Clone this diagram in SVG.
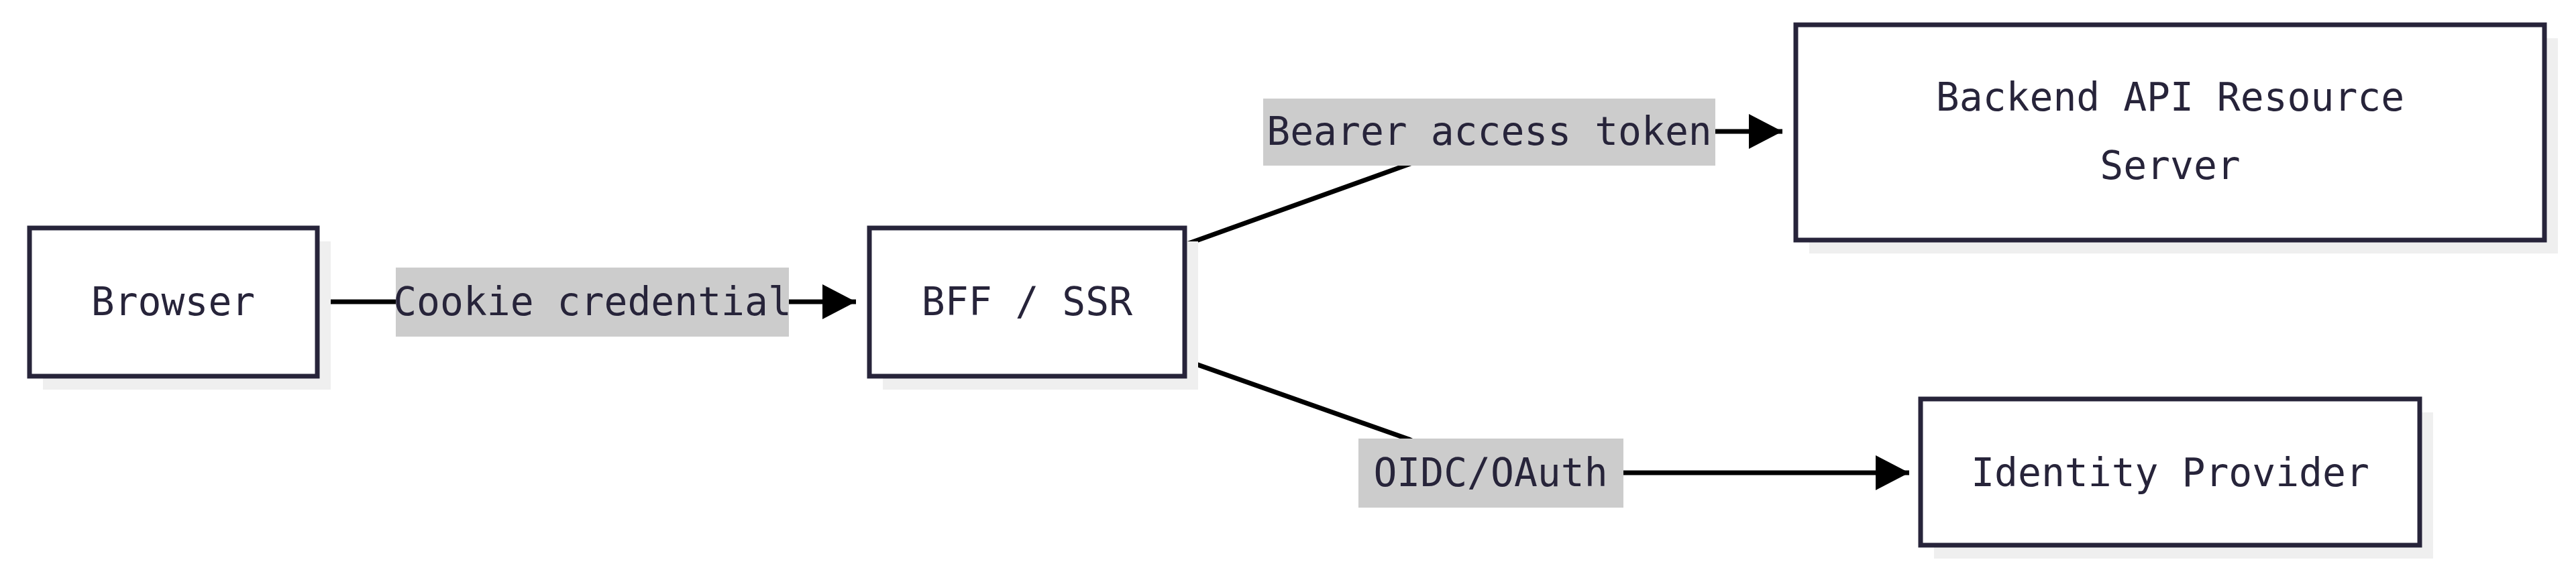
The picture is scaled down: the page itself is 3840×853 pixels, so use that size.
<svg xmlns="http://www.w3.org/2000/svg" width="3840" height="853" viewBox="0 0 3840 853">
<style>
.shadow{fill:#efefef}
.node{fill:#fff;stroke:#27243a;stroke-width:7}
.t{font-family:"DejaVu Sans Mono","Liberation Mono",monospace;font-size:58px;fill:#27243a;text-anchor:middle;dominant-baseline:central}
.lbg{fill:#cccccc}
.edge{fill:none;stroke:#000;stroke-width:7}
</style>
<defs>
<marker id="arr" markerUnits="userSpaceOnUse" markerWidth="50" markerHeight="52" refX="50" refY="26" orient="auto">
<path d="M0,0 L50,26 L0,52 Z" fill="#000"/>
</marker>
</defs>
<g id="edges">
<path class="edge" d="M473,450 L1276,450" marker-end="url(#arr)"/>
<path class="edge" d="M1766,365 L2100,245 C2150,225 2200,196 2260,196 L2657,196" marker-end="url(#arr)"/>
<path class="edge" d="M1766,537 L2100,655 C2150,680 2200,705 2260,705 L2846,705" marker-end="url(#arr)"/>
</g>
<g id="label-cookie"><rect class="lbg" x="590" y="399" width="586" height="103"/><text class="t" x="883" y="450">Cookie credential</text></g>
<g id="label-bearer"><rect class="lbg" x="1883" y="147" width="674" height="100"/><text class="t" x="2220" y="196">Bearer access token</text></g>
<g id="label-oidc"><rect class="lbg" x="2025" y="654" width="395" height="103"/><text class="t" x="2222" y="705">OIDC/OAuth</text></g>
<g id="browser"><rect class="shadow" x="64" y="360" width="429" height="221"/><rect class="node" x="44" y="340" width="429" height="221"/><text class="t" x="258" y="450">Browser</text></g>
<g id="bff"><rect class="shadow" x="1316" y="360" width="470" height="221"/><rect class="node" x="1296" y="340" width="470" height="221"/><text class="t" x="1531" y="450">BFF / SSR</text></g>
<g id="backend"><rect class="shadow" x="2697" y="57" width="1116" height="321"/><rect class="node" x="2677" y="37" width="1116" height="321"/><text class="t" x="3235" y="145">Backend API Resource</text><text class="t" x="3235" y="247">Server</text></g>
<g id="idp"><rect class="shadow" x="2883" y="615" width="744" height="218"/><rect class="node" x="2863" y="595" width="744" height="218"/><text class="t" x="3235" y="705">Identity Provider</text></g>
</svg>
